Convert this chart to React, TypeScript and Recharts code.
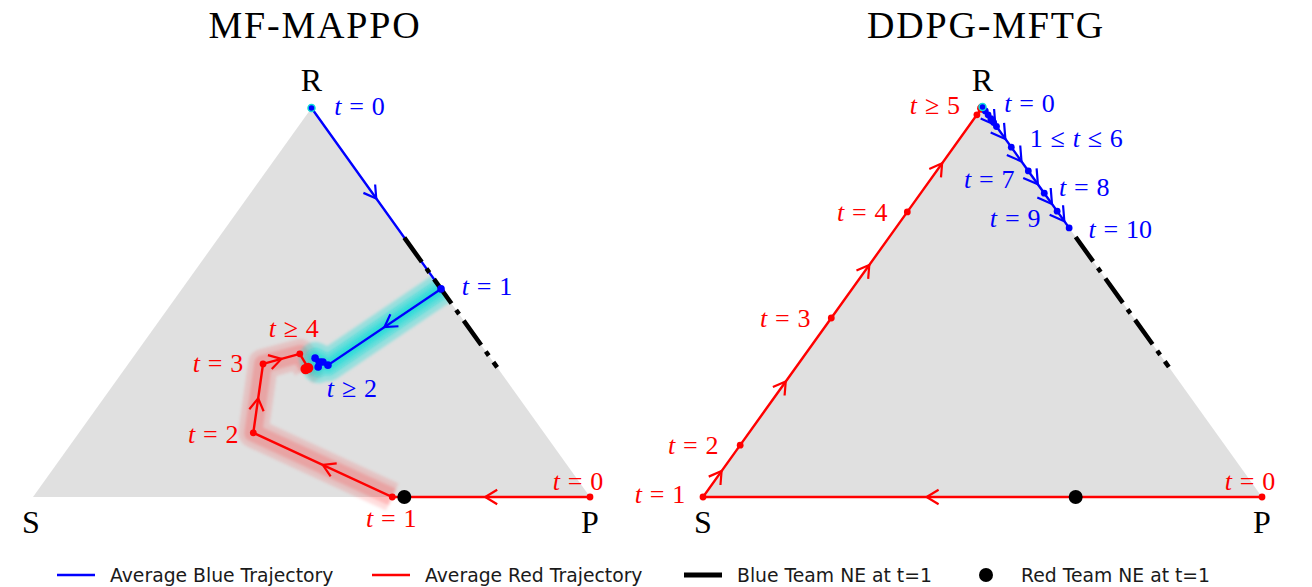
import React from 'react';
import { ComposedChart, Area, Scatter, XAxis, YAxis } from 'recharts';

// Strategy simplex: every state is a share of Rock (r) and Paper (p); Scissors is the rest.
const BLUE = '#0000ff';
const RED = '#ff0000';
const CYAN = '#10dcd8';
const GREY = '#e0e0e0';
const SERIF = "'Liberation Serif', 'DejaVu Serif', serif";
const SANS = "'DejaVu Sans', sans-serif";

const W = 1312;
const H = 587;

// ---- MF-MAPPO ----
const mappoBlueR = [1, 0.535, 0.339, 0.347, 0.357, 0.334, 0.347];
const mappoBlueP = [0, 0.465, 0.36, 0.347, 0.328, 0.345, 0.342];
const mappoRedR = [0, 0, 0.165, 0.342, 0.368, 0.332, 0.329];
const mappoRedP = [1, 0.645, 0.313, 0.242, 0.295, 0.328, 0.325];

// ---- DDPG-MFTG ----
const ddpgBlueR = [1, 0.99, 0.98, 0.97, 0.96, 0.95, 0.897, 0.836, 0.779, 0.733, 0.69];
const ddpgBlueP = [0, 0.01, 0.02, 0.03, 0.04, 0.05, 0.103, 0.164, 0.221, 0.267, 0.31];
const ddpgRedR = [0, 0, 0.133, 0.459, 0.731, 0.98, 0.997];
const ddpgRedP = [1, 0, 0, 0, 0, 0, 0];

// Nash equilibria at t=1
const blueNeR = [2 / 3, 1 / 3];
const blueNeP = [1 / 3, 2 / 3];
const redNeR = [0];
const redNeP = [2 / 3];

// corners of the simplex: S, R, P
const cornerR = [0, 1, 0];
const cornerP = [0, 0, 1];

type XY = { x: number; y: number };

const toXY = (r: number, p: number): XY => ({ x: p + r / 2, y: r });
const path = (rs: number[], ps: number[]): XY[] => rs.map((r, i) => toXY(r, ps[i]));

const Nothing = () => <g />;

type ArrowSpec = { seg: number; at: number };

function arrowPoints(pts: XY[], specs: ArrowSpec[], plotW: number, plotH: number) {
  return specs.map(({ seg, at }) => {
    const a = pts[seg];
    const b = pts[seg + 1];
    const ang = Math.atan2(-(b.y - a.y) * plotH, (b.x - a.x) * plotW);
    return { x: a.x + (b.x - a.x) * at, y: a.y + (b.y - a.y) * at, ang };
  });
}

function makeArrowShape(color: string, len: number) {
  return (props: any) => {
    const { cx, cy, payload } = props;
    const th = (31 * Math.PI) / 180;
    const a1 = payload.ang + Math.PI - th;
    const a2 = payload.ang + Math.PI + th;
    const d = `M${cx + len * Math.cos(a1)},${cy + len * Math.sin(a1)} L${cx},${cy} L${cx + len * Math.cos(a2)},${cy + len * Math.sin(a2)}`;
    return <path d={d} fill="none" stroke={color} strokeWidth={2.2} strokeLinejoin="miter" />;
  };
}

function makeDot(fill: string, r: number, ring?: string) {
  return (props: any) => (
    <circle cx={props.cx} cy={props.cy} r={r} fill={fill} stroke={ring ?? 'none'} strokeWidth={ring ? 1.5 : 0} />
  );
}

function MathText({ x, y, text, color, size }: { x: number; y: number; text: string; color: string; size: number }) {
  const tokens = text.split(' ');
  return (
    <text x={x} y={y} fill={color} fontSize={size} fontFamily={SERIF} textAnchor="middle" dominantBaseline="central">
      {tokens.map((tk, i) => (
        <tspan key={i} dx={i === 0 ? 0 : size * 0.3} fontStyle={tk === 't' ? 'italic' : 'normal'}>
          {tk}
        </tspan>
      ))}
    </text>
  );
}

const labelShape = (props: any) => {
  const { cx, cy, payload } = props;
  return <MathText x={cx + payload.dx} y={cy + payload.dy} text={payload.text} color={payload.color} size={payload.size} />;
};

type LabelSpec = { text: string; color: string; r: number; p: number; dx: number; dy: number; size: number };

type PanelProps = {
  margin: { top: number; right: number; bottom: number; left: number };
  plotW: number;
  plotH: number;
  blue: XY[];
  red: XY[];
  blueArrows: ArrowSpec[];
  redArrows: ArrowSpec[];
  labels: LabelSpec[];
  bands: boolean;
  blueDotR: number;
  redDotR: number;
  bigRedFrom: number;
  bigRedR: number;
  arrowLen: number;
  blueArrowLen: number;
};

const band = (color: string, width: number, opacity: number) => ({
  stroke: color,
  strokeWidth: width,
  strokeOpacity: opacity,
  strokeLinejoin: 'round',
  strokeLinecap: 'butt',
  filter: 'url(#soften)',
});

function Panel(props: PanelProps) {
  const { margin, plotW, plotH, blue, red, labels, bands } = props;
  const tri = [toXY(cornerR[0], cornerP[0]), toXY(cornerR[1], cornerP[1]), toXY(cornerR[2], cornerP[2])];
  const ne = path(blueNeR, blueNeP);
  const neDot = path(redNeR, redNeP);
  const bArrows = arrowPoints(blue, props.blueArrows, plotW, plotH);
  const rArrows = arrowPoints(red, props.redArrows, plotW, plotH);
  const labelData = labels.map((l) => ({ ...toXY(l.r, l.p), text: l.text, color: l.color, dx: l.dx, dy: l.dy, size: l.size }));
  const blueBand = blue.slice(1);
  const redBand = red.slice(1);
  const redSmall = red.slice(0, props.bigRedFrom);
  const redBig = red.slice(props.bigRedFrom);

  return (
    <div style={{ position: 'absolute', left: 0, top: 0 }}>
      <ComposedChart width={W} height={H} margin={margin}>
        <XAxis type="number" dataKey="x" domain={[0, 1]} hide />
        <YAxis type="number" dataKey="y" domain={[0, 1]} hide />
        <Area data={tri} dataKey="y" type="linear" fill={GREY} fillOpacity={1} stroke="none" isAnimationActive={false} />
        {bands && <Scatter data={redBand} shape={Nothing} isAnimationActive={false} line={band(RED, 30, 0.13)} />}
        {bands && <Scatter data={redBand} shape={Nothing} isAnimationActive={false} line={band(RED, 18, 0.16)} />}
        {bands && <Scatter data={blueBand} shape={Nothing} isAnimationActive={false} line={band(CYAN, 32, 0.32)} />}
        {bands && <Scatter data={blueBand} shape={Nothing} isAnimationActive={false} line={band(CYAN, 20, 0.45)} />}
        {bands && <Scatter data={blueBand} shape={Nothing} isAnimationActive={false} line={band(CYAN, 10, 0.6)} />}
        <Scatter data={blue} shape={Nothing} isAnimationActive={false} line={{ stroke: BLUE, strokeWidth: 2.4 }} />
        <Scatter data={red} shape={Nothing} isAnimationActive={false} line={{ stroke: RED, strokeWidth: 2.4 }} />
        <Scatter data={ne} shape={Nothing} isAnimationActive={false}
          line={{ stroke: '#000', strokeWidth: 4.5, strokeDasharray: '30 8 5 8' }} />
        <Scatter data={bArrows} shape={makeArrowShape(BLUE, props.blueArrowLen)} isAnimationActive={false} />
        <Scatter data={rArrows} shape={makeArrowShape(RED, props.arrowLen)} isAnimationActive={false} />
        <Scatter data={redSmall} shape={makeDot(RED, props.redDotR)} isAnimationActive={false} />
        <Scatter data={redBig} shape={makeDot(RED, props.bigRedR)} isAnimationActive={false} />
        <Scatter data={blue.slice(1)} shape={makeDot(BLUE, props.blueDotR)} isAnimationActive={false} />
        <Scatter data={blue.slice(0, 1)} shape={makeDot(BLUE, 3.5, CYAN)} isAnimationActive={false} />
        <Scatter data={neDot} shape={makeDot('#000', 7)} isAnimationActive={false} />
        <Scatter data={labelData} shape={labelShape} isAnimationActive={false} />
      </ComposedChart>
    </div>
  );
}

const T = 26; // label size
const V = 32; // corner letter size

const mappoLabels: LabelSpec[] = [
  { text: 'R', color: '#000', r: cornerR[1], p: cornerP[1], dx: 0, dy: -28, size: V },
  { text: 'S', color: '#000', r: cornerR[0], p: cornerP[0], dx: -2, dy: 25, size: V },
  { text: 'P', color: '#000', r: cornerR[2], p: cornerP[2], dx: 0, dy: 25, size: V },
  { text: 't = 0', color: BLUE, r: mappoBlueR[0], p: mappoBlueP[0], dx: 48, dy: -2, size: T },
  { text: 't = 1', color: BLUE, r: mappoBlueR[1], p: mappoBlueP[1], dx: 46, dy: -3, size: T },
  { text: 't ≥ 2', color: BLUE, r: mappoBlueR[2], p: mappoBlueP[2], dx: 24, dy: 23, size: T },
  { text: 't ≥ 4', color: RED, r: mappoRedR[4], p: mappoRedP[4], dx: -6, dy: -26, size: T },
  { text: 't = 3', color: RED, r: mappoRedR[3], p: mappoRedP[3], dx: -45, dy: -1, size: T },
  { text: 't = 2', color: RED, r: mappoRedR[2], p: mappoRedP[2], dx: -40, dy: 1, size: T },
  { text: 't = 1', color: RED, r: mappoRedR[1], p: mappoRedP[1], dx: -1, dy: 21, size: T },
  { text: 't = 0', color: RED, r: mappoRedR[0], p: mappoRedP[0], dx: -12, dy: -16, size: T },
];

const ddpgLabels: LabelSpec[] = [
  { text: 'R', color: '#000', r: cornerR[1], p: cornerP[1], dx: 0, dy: -27, size: V },
  { text: 'S', color: '#000', r: cornerR[0], p: cornerP[0], dx: 0, dy: 25, size: V },
  { text: 'P', color: '#000', r: cornerR[2], p: cornerP[2], dx: 0, dy: 25, size: V },
  { text: 't ≥ 5', color: RED, r: ddpgRedR[5], p: ddpgRedP[5], dx: -42, dy: -10, size: T },
  { text: 't = 0', color: BLUE, r: ddpgBlueR[0], p: ddpgBlueP[0], dx: 47, dy: -4, size: T },
  { text: '1 ≤ t ≤ 6', color: BLUE, r: ddpgBlueR[6], p: ddpgBlueP[6], dx: 65, dy: -9, size: T },
  { text: 't = 7', color: BLUE, r: ddpgBlueR[7], p: ddpgBlueP[7], dx: -39, dy: 8, size: T },
  { text: 't = 8', color: BLUE, r: ddpgBlueR[8], p: ddpgBlueP[8], dx: 40, dy: -6, size: T },
  { text: 't = 9', color: BLUE, r: ddpgBlueR[9], p: ddpgBlueP[9], dx: -42, dy: 7, size: T },
  { text: 't = 10', color: BLUE, r: ddpgBlueR[10], p: ddpgBlueP[10], dx: 51, dy: 1, size: T },
  { text: 't = 4', color: RED, r: ddpgRedR[4], p: ddpgRedP[4], dx: -45, dy: 0, size: T },
  { text: 't = 3', color: RED, r: ddpgRedR[3], p: ddpgRedP[3], dx: -46, dy: 0, size: T },
  { text: 't = 2', color: RED, r: ddpgRedR[2], p: ddpgRedP[2], dx: -47, dy: 0, size: T },
  { text: 't = 1', color: RED, r: ddpgRedR[1], p: ddpgRedP[1], dx: -43, dy: -3, size: T },
  { text: 't = 0', color: RED, r: ddpgRedR[0], p: ddpgRedP[0], dx: -12, dy: -16, size: T },
];

const legendItems = [
  { label: 'Average Blue Trajectory', kind: 'line', color: BLUE, x: 57, width: 2.4 },
  { label: 'Average Red Trajectory', kind: 'line', color: RED, x: 372, width: 2.4 },
  { label: 'Blue Team NE at t=1', kind: 'line', color: '#000', x: 684, width: 5 },
  { label: 'Red Team NE at t=1', kind: 'dot', color: '#000', x: 968, width: 0 },
];

export default function App() {
  return (
    <div style={{ position: 'absolute', left: 0, top: 0, width: W, height: H, background: '#fff', overflow: 'hidden' }}>
      <svg width={0} height={0} style={{ position: 'absolute' }}>
        <defs>
          <filter id="soften" filterUnits="userSpaceOnUse" x={0} y={0} width={W} height={H}>
            <feGaussianBlur stdDeviation={1.6} />
          </filter>
        </defs>
      </svg>
      <Panel
        margin={{ top: 108, right: W - 590, bottom: H - 497, left: 33 }}
        plotW={557}
        plotH={389}
        blue={path(mappoBlueR, mappoBlueP)}
        red={path(mappoRedR, mappoRedP)}
        blueArrows={[{ seg: 0, at: 0.5 }, { seg: 1, at: 0.5 }]}
        redArrows={[{ seg: 0, at: 0.53 }, { seg: 1, at: 0.5 }, { seg: 2, at: 0.5 }, { seg: 3, at: 0.5 }]}
        labels={mappoLabels}
        bands={true}
        blueDotR={3.8}
        redDotR={3.4}
        bigRedFrom={5}
        bigRedR={5.2}
        arrowLen={14}
        blueArrowLen={14}
      />
      <Panel
        margin={{ top: 107, right: W - 1262, bottom: H - 497, left: 703 }}
        plotW={559}
        plotH={390}
        blue={path(ddpgBlueR, ddpgBlueP)}
        red={path(ddpgRedR, ddpgRedP)}
        blueArrows={[4, 5, 6, 7, 8, 9].map((seg) => ({ seg, at: 0.6 }))}
        redArrows={[{ seg: 0, at: 0.6 }, { seg: 1, at: 0.5 }, { seg: 2, at: 0.5 }, { seg: 3, at: 0.5 }, { seg: 4, at: 0.5 }]}
        labels={ddpgLabels}
        bands={false}
        blueDotR={3.4}
        redDotR={3.4}
        bigRedFrom={6}
        bigRedR={4.6}
        arrowLen={14}
        blueArrowLen={16}
      />
      <svg width={W} height={H} style={{ position: 'absolute', left: 0, top: 0, pointerEvents: 'none' }}>
        <text x={315} y={25} textAnchor="middle" dominantBaseline="central" fontFamily={SERIF} fontSize={38} letterSpacing={1.8} fill="#000">
          MF-MAPPO
        </text>
        <text x={986} y={25} textAnchor="middle" dominantBaseline="central" fontFamily={SERIF} fontSize={38} letterSpacing={1.8} fill="#000">
          DDPG-MFTG
        </text>
        {legendItems.map((it) => (
          <g key={it.label}>
            {it.kind === 'line' ? (
              <line x1={it.x} x2={it.x + 38} y1={575} y2={575} stroke={it.color} strokeWidth={it.width} />
            ) : (
              <circle cx={it.x + 18} cy={575} r={7} fill={it.color} />
            )}
            <text x={it.x + 53} y={575} dominantBaseline="central" fontFamily={SANS} fontSize={18.8} fill="#1a1a1a">
              {it.label}
            </text>
          </g>
        ))}
      </svg>
    </div>
  );
}
